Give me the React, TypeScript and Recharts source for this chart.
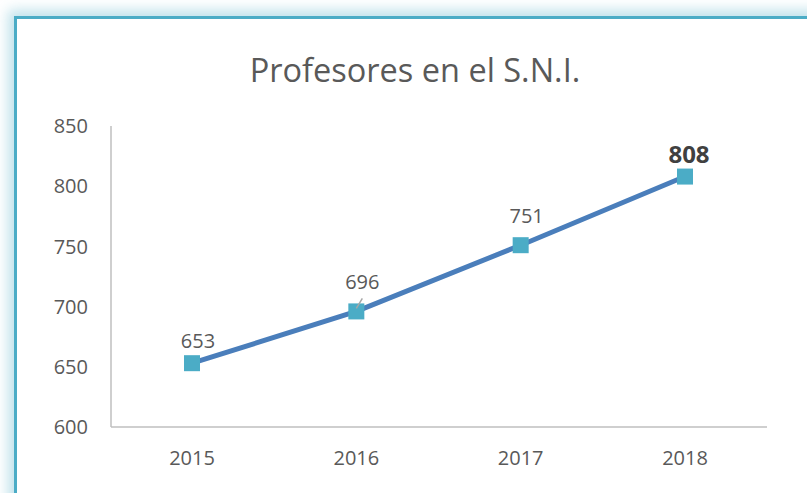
import { LineChart, Line, XAxis, YAxis, LabelList } from 'recharts';

const years = ['2015', '2016', '2017', '2018'];
const profesores = [653, 696, 751, 808];
const yTicks = [600, 650, 700, 750, 800, 850];

const data = years.map((year, i) => ({ year, value: profesores[i] }));

const FONT = '"Open Sans", sans-serif';
const GREY = '#595959';

function SquareDot(props: any) {
  const { cx, cy } = props;
  if (cx == null || cy == null) return null;
  return <rect x={cx - 8} y={cy - 8} width={16} height={16} fill="#4bacc6" />;
}

function ValueLabel(props: any) {
  const { x, y, value, index } = props;
  const last = index === data.length - 1;
  const lift = last ? 14 : index === 0 ? 15 : 22;
  return (
    <g>
      {index === 1 && (
        <line x1={x} y1={y - 3} x2={x + 6} y2={y - 13} stroke="#a6a6a6" strokeWidth={1.5} />
      )}
      <text
        x={x + (last ? 4 : 6)}
        y={y - lift}
        textAnchor="middle"
        fill={last ? '#404040' : GREY}
        fontFamily={FONT}
        fontSize={last ? 24 : 20}
        fontWeight={last ? 700 : 400}
      >
        {value}
      </text>
    </g>
  );
}

export default function App() {
  return (
    <div style={{ position: 'absolute', left: 0, top: 0, width: 807, height: 493, overflow: 'hidden', background: '#fff' }}>
      <div
        style={{
          position: 'absolute',
          left: 14,
          top: 16,
          width: 820,
          height: 500,
          border: '3px solid #4bacc6',
          boxShadow: '-2px -2px 12px 4px rgba(75,172,198,0.35)',
          boxSizing: 'border-box',
        }}
      />
      <div
        style={{
          position: 'absolute',
          left: 0,
          width: 830,
          top: 47,
          textAlign: 'center',
          fontFamily: FONT,
          fontSize: 32.5,
          color: GREY,
        }}
      >
        Profesores en el S.N.I.
      </div>
      <div style={{ position: 'absolute', left: 0, top: 0 }}>
        <LineChart width={807} height={493} data={data} margin={{ top: 126, right: 40, bottom: 36, left: 30 }}>
          <XAxis
            dataKey="year"
            padding={{ left: 81, right: 82 }}
            axisLine={{ stroke: '#bfbfbf', strokeWidth: 1.5 }}
            tickLine={false}
            tickSize={0}
            tickMargin={24}
            height={30}
            tick={{ fill: GREY, fontSize: 20, fontFamily: FONT }}
          />
          <YAxis
            domain={[600, 850]}
            ticks={yTicks}
            width={81}
            axisLine={{ stroke: '#bfbfbf', strokeWidth: 1.5 }}
            tickLine={false}
            tickSize={0}
            tickMargin={23}
            tick={{ fill: GREY, fontSize: 20, fontFamily: FONT }}
          />
          <Line
            dataKey="value"
            stroke="#4a7ebb"
            strokeWidth={5}
            dot={<SquareDot />}
            activeDot={false}
            isAnimationActive={false}
          >
            <LabelList dataKey="value" content={<ValueLabel />} />
          </Line>
        </LineChart>
      </div>
    </div>
  );
}
